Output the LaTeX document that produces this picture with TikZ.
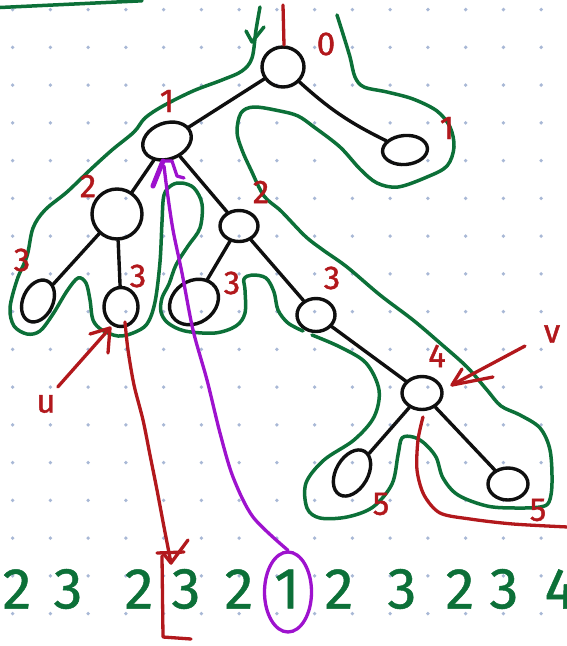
\documentclass[tikz,border=0pt]{standalone}
\usepackage{fontspec}
\setmainfont{Fira Sans}
\usetikzlibrary{shapes.geometric}
\definecolor{ink}{RGB}{15,15,15}
\definecolor{tour}{RGB}{12,112,56}
\definecolor{mark}{RGB}{178,24,28}
\definecolor{query}{RGB}{158,18,206}
\definecolor{griddot}{RGB}{168,184,214}
\tikzset{
  vert/.style={ellipse, draw=ink, line width=3.4pt, inner sep=0pt},
  edge/.style={draw=ink, line width=3.4pt, line cap=round},
  tourline/.style={draw=tour, line width=3.5pt, line cap=round, line join=round},
  redline/.style={draw=mark, line width=3.3pt, line cap=round, line join=round},
  purpleline/.style={draw=query, line width=3.3pt, line cap=round, line join=round},
  depth/.style={text=mark, font=\fontsize{33}{33}\selectfont\addfontfeature{FakeBold=1.2}, inner sep=0pt},
  seq/.style={text=tour, font=\fontsize{58}{58}\selectfont\addfontfeature{FakeBold=0.8}, inner sep=0pt}
}
\begin{document}
\begin{tikzpicture}[x=1pt, y=-1pt]
\useasboundingbox (0,0) rectangle (567,646);
\fill[white] (0,0) rectangle (567,646);

% dotted paper
\foreach \i in {0,...,14}
  \foreach \j in {0,...,16}
    \fill[griddot] ({12.7+37.75*\i},{9.6+37.75*\j}) circle (1.9pt);

% stray stroke in the corner
\draw[tourline] (0,7.5) -- (142,0.8);

% tree vertices
\node[vert, minimum width=42pt, minimum height=40pt] (R) at (283,67) {};
\node[vert, minimum width=50pt, minimum height=36pt, rotate=20] (A) at (167,141) {};
\node[vert, minimum width=45pt, minimum height=29pt, rotate=5] (B) at (405,150) {};
\node[vert, minimum width=50pt, minimum height=50pt] (C) at (117,214) {};
\node[vert, minimum width=30pt, minimum height=44pt, rotate=-25] (D) at (38,301) {};
\node[vert, minimum width=34pt, minimum height=39pt] (E) at (121,307) {};
\node[vert, minimum width=38pt, minimum height=31pt] (F) at (239,226) {};
\node[vert, minimum width=52pt, minimum height=42pt, rotate=35] (G) at (194,302) {};
\node[vert, minimum width=38pt, minimum height=33pt] (H) at (316,315) {};
\node[vert, minimum width=40pt, minimum height=33pt] (I) at (422,393) {};
\node[vert, minimum width=32pt, minimum height=50pt, rotate=-30] (J) at (352,473) {};
\node[vert, minimum width=40pt, minimum height=32pt] (K) at (508,484) {};

% tree edges
\draw[edge] (R) -- (A);
\draw[edge] (R) to[bend right=8] (B);
\draw[edge] (A) -- (C);
\draw[edge] (A) -- (F);
\draw[edge] (C) -- (D);
\draw[edge] (C) -- (E);
\draw[edge] (F) -- (G);
\draw[edge] (F) -- (H);
\draw[edge] (H) -- (I);
\draw[edge] (I) -- (J);
\draw[edge] (I) -- (K);

% Euler tour around the tree
\draw[tourline] plot[smooth, tension=0.55] coordinates {
 (260,7) (256,30) (252,58) (242,71) (222,80) (193,91) (163,106) (145,118)
 (134,132) (112,150) (90,170) (67,192) (45,210) (33,228) (27,256) (17,280)
 (10,308) (14,326) (27,334) (40,331) (53,314) (67,291) (78,278) (86,283)
 (90,300) (93,320) (102,330) (118,336) (133,333) (147,324) (155,302) (160,262)
 (162,222) (164,195) (172,185) (182,183) (194,188) (202,204) (200,228) (188,246)
 (176,265) (169,284) (162,298) (161,312) (168,323) (185,331) (215,333) (236,326)
 (245,313) (245,290) (244,279) (252,275) (266,278) (274,292) (278,310) (288,323)
 (303,331)};
\draw[tourline] plot[smooth, tension=0.55] coordinates {
 (312,335) (340,347) (366,363) (379,390) (374,417) (354,440) (324,460) (306,483)
 (307,508) (320,518) (347,517) (373,507) (392,484) (398,455) (402,438) (413,437)
 (424,443) (436,457) (443,478) (458,495) (487,506) (515,508) (540,507) (549,502)
 (552,483) (550,450) (540,428) (520,415) (501,406) (487,390) (467,367) (440,343)
 (413,320) (380,295) (347,267) (323,250) (305,236) (281,211) (264,196) (251,170)
 (242,150) (237,132) (241,113) (254,107) (280,111) (298,116) (314,127) (340,147)
 (360,169) (377,183) (398,187) (427,177) (447,166) (454,147) (450,127) (437,111)
 (413,99) (387,92) (364,87) (355,77) (350,57) (343,34) (337,15)};
\draw[tourline] (246,31) -- (252,42) -- (264,27);

% depths
\draw[redline] (283,5) -- (284,45);
\node[depth] (d0) at (326,44) {0};
\node[depth] (dB) at (447,128) {1};
\node[depth] (dA) at (167,101) {1};
\node[depth] (dC) at (88,186) {2};
\node[depth] (dD) at (22,260) {3};
\node[depth] (dE) at (138,276) {3};
\node[depth] (dF) at (261,192) {2};
\node[depth] (dG) at (232,283) {3};
\node[depth] (dH) at (332,278) {3};
\node[depth] (dI) at (437,356) {4};
\node[depth] (dJ) at (381,504) {5};
\node[depth] (dK) at (538,510) {5};

% query vertices u and v
\node[depth] (u) at (46,404) {u};
\node[depth] (v) at (552,334) {v};
\coordinate (uTip) at (110,328);
\draw[redline] (u.north east) ++(2,-8) -- (uTip);
\draw[redline] (90,334) -- (uTip) -- (108,353);
\coordinate (vTip) at (452,385);
\draw[redline] (525,346) -- (vTip);
\draw[redline] (462,369) -- (vTip) -- (493,377);

% first occurrence of u in the tour
\coordinate (uPos) at (171,563);
\draw[redline] plot[smooth, tension=0.5] coordinates {
 (125,322) (128,350) (134,385) (143,420) (150,455) (157,490) (164,527) (uPos)};
\draw[redline] (163,553) -- (uPos) -- (188,540);
\draw[redline] (157,553) -- (184,552);
\draw[redline] (162,556) -- (163,637) -- (191,639);
% last occurrence of v
\draw[redline] plot[smooth, tension=0.5] coordinates {
 (423,417) (418,440) (417,470) (424,495) (440,513) (470,519) (513,524) (568,527)};

% depth sequence of the tour
\node[seq] (s1) at (17,589) {2};
\node[seq] (s2) at (68,589) {3};
\node[seq] (s3) at (139,589) {2};
\node[seq] (s4) at (186,589) {3};
\node[seq] (s5) at (239,589) {2};
\node[seq] (s6) at (287,589) {1};
\node[seq] (s7) at (339,589) {2};
\node[seq] (s8) at (402,589) {3};
\node[seq] (s9) at (460,589) {2};
\node[seq] (s10) at (504,589) {3};
\node[seq] (s11) at (560,589) {4};

% minimum of the range
\node[draw=query, line width=3.3pt, ellipse, minimum width=47pt, minimum height=80pt, inner sep=0pt] (mn) at (288,592) {};
\draw[purpleline] plot[smooth, tension=0.5] coordinates {
 (mn.north) (253,517) (233,477) (220,433) (207,380) (193,330) (182,273) (173,230) (167,190) (164,166)};
\draw[purpleline, line width=5pt] (153,186) -- (163,161);
\draw[purpleline] (163,161) -- (172,161) -- (177,176) -- (184,178);
\end{tikzpicture}
\end{document}
